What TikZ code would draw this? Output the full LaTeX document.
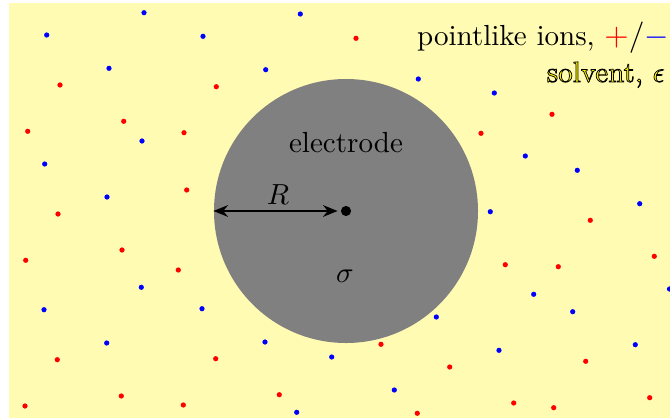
\documentclass[tikz,border=0pt]{standalone}
\usepackage{graphicx}
\usetikzlibrary{arrows.meta}
\newcommand{\outlinedtext}[1]{{\color{yellow}\special{pdf:code q 0 0 0 RG 2 Tr 0.25 w}#1\special{pdf:code Q}}}
\begin{document}
\begin{tikzpicture}[x=0.3443pt,y=-0.3443pt,
  posion/.style={fill=red},
  negion/.style={fill=blue},
  lbl/.style={inner sep=0pt,font=\normalsize}]
\useasboundingbox (0,0) rectangle (670,418);
\fill[yellow!30] (9,3) rectangle (670,418);
% positive ions
\foreach \x/\y in {60/85,123.7/121.3,27.7/131.3,184/132.7,216.3/86.7,356/38.3,
  552/114.3,481/133.3,186.7/190,58/214,122/250,25.7/260.3,178.3/270,
  590.3/220.3,654.3/256.3,505.3/264.7,558.3/266.7,
  381/344.3,449.7/367,585.7/361.3,513.7/403,553.7/407.7,649.7/397.7,417.3/413.3,
  57.3/359.7,215.7/358.7,121.3/396,25/406,183.3/405,279.3/394.7}
  \fill[posion] (\x,\y) circle (0.9pt);
% negative ions
\foreach \x/\y in {144/12.7,46.7/35,109/68.3,142/141,300.3/14,203/36.3,265.7/69.7,
  418.3/79,494.3/93,525.3/156,577.3/170.3,639.7/203.7,490.3/211.7,
  533.7/294.3,572.7/311.7,436.3/317,331.7/357,499/350.3,635.3/344.7,394.3/390,
  669.5/289,44.7/164,107/197,141.3/287.3,44/309.7,202/308.7,
  106.7/343,265/342,296.7/412.3}
  \fill[negion] (\x,\y) circle (0.9pt);
% electrode
\node[circle,fill=gray,minimum size=90.9pt,inner sep=0pt] (el) at (346,211) {};
\coordinate (ctr) at (346,211);
\fill[black] (ctr) circle (1.75pt);
\draw[{Stealth[length=5pt,width=4pt]}-{Stealth[length=5pt,width=4pt]},line width=0.7pt]
  (el.west) -- ([xshift=-2.9pt]ctr);
\node[lbl] (elabel) at (346,143) {electrode};
\node[lbl] (rlabel) at (278,195) {$R$};
\node[lbl] (slabel) at (345,276) {$\sigma$};
\node[lbl,anchor=base west] (ions) at (416.5,45)
  {pointlike ions, \scalebox{1.08}{\textcolor{red}{$+$}/\textcolor{blue}{$-$}}};
\node[lbl,anchor=base east] (solv) at (665,82)
  {\outlinedtext{solvent, $\epsilon$}};
\end{tikzpicture}
\end{document}
